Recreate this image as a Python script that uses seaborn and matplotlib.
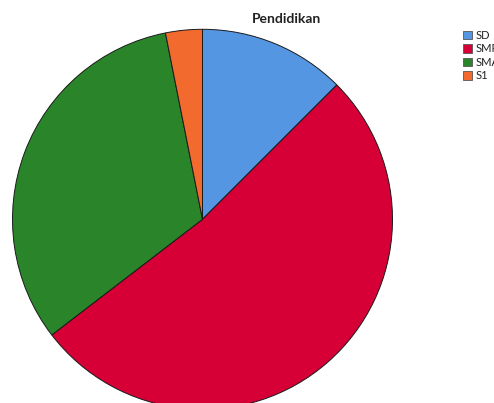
import matplotlib
matplotlib.use("Agg")
import matplotlib.pyplot as plt
import seaborn as sns

# Education level counts
categories = ["SD", "SMP", "SMA", "S1"]
counts = [12, 50, 31, 3]
colors = ["#5596E3", "#D60036", "#2A852A", "#F26A2E"]
title = "Pendidikan"

sns.set_theme(style="white")
plt.rcParams["font.family"] = ["Lato", "DejaVu Sans"]

W, H, DPI = 494, 403, 100
fig = plt.figure(figsize=(W / DPI, H / DPI), dpi=DPI)

# pie axes: centre (202.5, 219.3) px, radius 190 px
cx, cy, r = 202.5, 219.3, 190
ax = fig.add_axes([(cx - r) / W, (H - cy - r) / H, 2 * r / W, 2 * r / H])
wedges, _ = ax.pie(
    counts,
    colors=colors,
    startangle=90,
    counterclock=False,
    radius=1,
    wedgeprops=dict(edgecolor="#1a1a1a", linewidth=0.7),
)
ax.set_xlim(-1, 1)
ax.set_ylim(-1, 1)
ax.set_aspect("equal")
ax.axis("off")

fig.text(286 / W, 1 - 19 / H, title, ha="center", va="center",
         fontsize=10, fontweight="bold", color="#222222")

leg = fig.legend(
    wedges, categories,
    loc="upper left",
    bbox_to_anchor=(463 / W, 1 - 30 / H),
    frameon=False,
    fontsize=8,
    handlelength=0.8,
    handleheight=0.8,
    handletextpad=0.3,
    labelspacing=0.22,
    borderaxespad=0,
    borderpad=0,
)
for t in leg.get_texts():
    t.set_color("#222222")
for h in leg.legend_handles:
    h.set_edgecolor("#555555")
    h.set_linewidth(0.6)

fig.savefig("out.png", dpi=DPI)
